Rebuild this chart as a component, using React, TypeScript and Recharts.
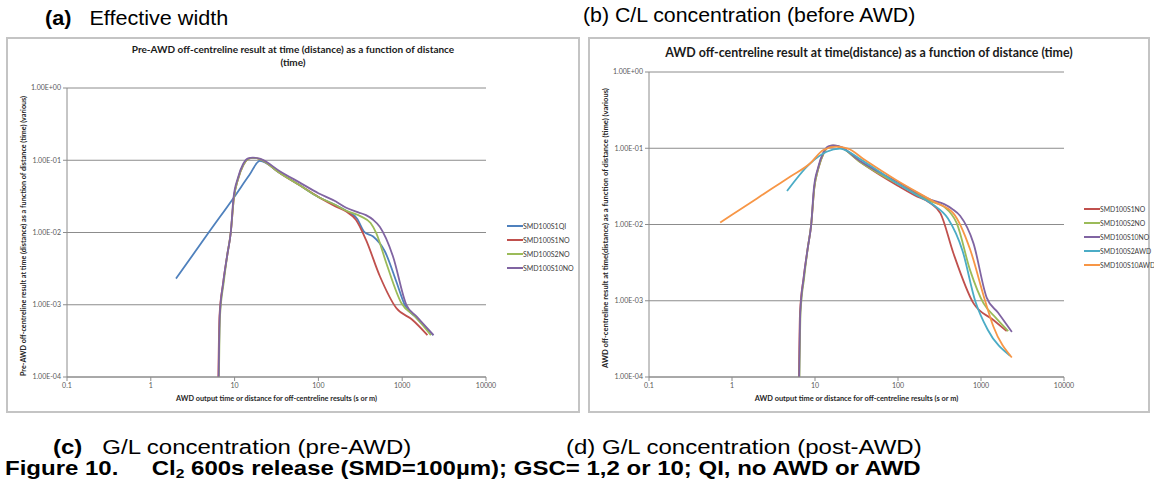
import React from "react";
import { LineChart, Line, XAxis, YAxis, CartesianGrid } from "recharts";

// log axes
const xTicks = [0.1, 1, 10, 100, 1000, 10000];
const yTicks = [0.0001, 0.001, 0.01, 0.1, 1];

// the steep initial rise, shared shape for the NO runs
const riseS1 = [[6.4, 0.0001], [6.6, 0.0007], [7.3, 0.002], [8.2, 0.005], [9.0, 0.01], [9.8, 0.03], [11, 0.055], [12.7, 0.086], [14.5, 0.104], [16.5, 0.108], [20, 0.104]];
const riseS2 = [[6.5, 0.0001], [6.7, 0.0007], [7.4, 0.002], [8.2, 0.005], [9.0, 0.01], [9.8, 0.03], [11, 0.055], [12.7, 0.086], [14.5, 0.104], [16.5, 0.108], [20, 0.104]];
const riseS10 = [[6.45, 0.0001], [6.65, 0.0007], [7.3, 0.002], [8.2, 0.005], [9.0, 0.01], [9.7, 0.03], [10.9, 0.056], [12.6, 0.088], [14.5, 0.106], [16.5, 0.109], [20, 0.105]];

// (a) pre-AWD
const preS1QI = [[2, 0.0023], [5, 0.0103], [10, 0.0316], [15, 0.0624], [20, 0.098], [35, 0.066], [60, 0.045], [100, 0.031], [160, 0.024], [215, 0.02], [290, 0.0155], [355, 0.0101], [450, 0.0088], [620, 0.0055], [850, 0.0021], [1070, 0.001], [1500, 0.00065], [2350, 0.00038]];
const preS1NO = [...riseS1, [35, 0.066], [60, 0.045], [100, 0.031], [160, 0.023], [215, 0.0195], [280, 0.015], [370, 0.0079], [540, 0.0025], [850, 0.0009], [1320, 0.00062], [2000, 0.00038]];
const preS2NO = [...riseS2, [35, 0.066], [60, 0.045], [100, 0.031], [160, 0.024], [215, 0.02], [325, 0.0166], [420, 0.0135], [490, 0.0098], [650, 0.0037], [980, 0.00105], [1400, 0.0007], [2200, 0.00038]];
const preS10NO = [...riseS10, [35, 0.07], [60, 0.049], [100, 0.035], [160, 0.027], [215, 0.022], [300, 0.019], [370, 0.0174], [450, 0.015], [540, 0.012], [775, 0.0047], [1120, 0.001], [1500, 0.00068], [2370, 0.00038]];

// (b) AWD
const awdS1NO = [...riseS1, [35, 0.066], [60, 0.045], [96, 0.033], [160, 0.024], [247, 0.019], [325, 0.014], [465, 0.0042], [810, 0.00093], [1410, 0.00056], [2040, 0.0004]];
const awdS2NO = [...riseS2, [35, 0.066], [60, 0.046], [100, 0.034], [160, 0.026], [250, 0.02], [360, 0.017], [510, 0.0104], [740, 0.0025], [1070, 0.00093], [1500, 0.0006], [2130, 0.0004]];
const awdS10NO = [...riseS10, [35, 0.068], [60, 0.048], [100, 0.036], [160, 0.027], [250, 0.021], [360, 0.0185], [450, 0.016], [560, 0.013], [810, 0.0057], [1170, 0.0011], [1600, 0.0007], [2350, 0.00039]];
const awdS2AWD = [[4.6, 0.0275], [8.7, 0.063], [13.8, 0.09], [20, 0.099], [35, 0.072], [60, 0.049], [96, 0.035], [160, 0.025], [268, 0.018], [400, 0.012], [600, 0.0045], [850, 0.001], [1200, 0.00042], [2240, 0.00019]];
const awdS10AWD = [[0.72, 0.0106], [1, 0.0134], [2, 0.022], [3, 0.0294], [5, 0.0423], [8.7, 0.063], [12.6, 0.095], [18, 0.105], [25, 0.099], [40, 0.07], [96, 0.038], [268, 0.02], [465, 0.014], [740, 0.0047], [1120, 0.001], [1410, 0.00046], [2350, 0.00018]];

const BLUE = "#4F81BD";
const RED = "#C0504D";
const GREEN = "#9BBB59";
const PURPLE = "#8064A2";
const TEAL = "#4BACC6";
const ORANGE = "#F79646";

const preSeries = [
  { name: "SMD100S1QI", color: BLUE, pts: preS1QI },
  { name: "SMD100S1NO", color: RED, pts: preS1NO },
  { name: "SMD100S2NO", color: GREEN, pts: preS2NO },
  { name: "SMD100S10NO", color: PURPLE, pts: preS10NO },
];

const awdSeries = [
  { name: "SMD100S1NO", color: RED, pts: awdS1NO },
  { name: "SMD100S2NO", color: GREEN, pts: awdS2NO },
  { name: "SMD100S10NO", color: PURPLE, pts: awdS10NO },
  { name: "SMD100S2AWD", color: TEAL, pts: awdS2AWD },
  { name: "SMD100S10AWD", color: ORANGE, pts: awdS10AWD },
];

const fmtY = (v: number) => {
  const e = Math.round(Math.log10(v));
  return `1.00E${e < 0 ? "-" : "+"}${String(Math.abs(e)).padStart(2, "0")}`;
};

const chartFont = "Lato, 'Liberation Sans', sans-serif";
const tickStyle = { fontSize: 7, fill: "#595959", fontFamily: chartFont };
const gridColor = "#8c8c8c";

function LogPanel({ left, top, width, height, plotTop, plotRight, series, title, titleSize, titleTop, yLabel, yLabelSize, axisLabelSize, legendLeft, legendTop, legendSize }: any) {
  const plotLeft = 61;
  const plotBottom = 36;
  return (
    <div style={{ position: "absolute", left, top, width, height }}>
      <div
        style={{
          position: "absolute",
          left: 0,
          top: 0,
          width,
          height,
          boxSizing: "border-box",
          border: "2px solid #c4c4c4",
        }}
      />
      <div
        style={{
          position: "absolute",
          left: 0,
          top: titleTop,
          width,
          textAlign: "center",
          fontFamily: chartFont,
          fontWeight: 700,
          fontSize: titleSize,
          lineHeight: "13px",
          color: "#1a1a1a",
        }}
      >
        {title.map((t: string) => (
          <div key={t}>{t}</div>
        ))}
      </div>
      <div style={{ position: "absolute", left: 0, top: 0 }}>
        <LineChart
          width={width}
          height={height}
          margin={{ top: plotTop, right: plotRight, bottom: plotBottom - 20, left: plotLeft - 50 }}
        >
          <CartesianGrid vertical={false} stroke={gridColor} strokeWidth={1} />
          <XAxis
            dataKey="x"
            type="number"
            scale="log"
            domain={[0.1, 10000]}
            ticks={xTicks}
            allowDataOverflow
            height={20}
            tickSize={4}
            tick={tickStyle}
            stroke={gridColor}
          />
          <YAxis
            dataKey="y"
            type="number"
            scale="log"
            domain={[0.0001, 1]}
            ticks={yTicks}
            allowDataOverflow
            width={50}
            tickSize={4}
            tick={tickStyle}
            tickFormatter={fmtY}
            stroke={gridColor}
          />
          {series.map((s: any) => (
            <Line
              key={s.name}
              data={s.pts.map(([x, y]: number[]) => ({ x, y }))}
              dataKey="y"
              name={s.name}
              type="monotone"
              stroke={s.color}
              strokeWidth={1.8}
              dot={false}
              isAnimationActive={false}
            />
          ))}
        </LineChart>
      </div>
      <div
        style={{
          position: "absolute",
          left: 17,
          top: plotTop + (height - plotTop - plotBottom) / 2 + 3,
          transform: "translate(-50%, -50%) rotate(-90deg)",
          whiteSpace: "nowrap",
          fontFamily: chartFont,
          fontWeight: 700,
          fontSize: yLabelSize,
          color: "#262626",
        }}
      >
        {yLabel}
      </div>
      <div
        style={{
          position: "absolute",
          left: plotLeft,
          width: width - plotLeft - plotRight,
          top: height - 19,
          textAlign: "center",
          whiteSpace: "nowrap",
          fontFamily: chartFont,
          fontWeight: 700,
          fontSize: axisLabelSize,
          color: "#262626",
        }}
      >
        AWD output time or distance for off-centreline results (s or m)
      </div>
      <div style={{ position: "absolute", left: legendLeft, top: legendTop }}>
        {series.map((s: any) => (
          <div key={s.name} style={{ display: "flex", alignItems: "center", height: 14 }}>
            <div style={{ width: 16, height: 2, background: s.color }} />
            <span style={{ fontFamily: chartFont, fontSize: legendSize, color: "#404040", whiteSpace: "nowrap" }}>{s.name}</span>
          </div>
        ))}
      </div>
    </div>
  );
}

const capFont = "'Liberation Sans', Arial, sans-serif";
const capStyle: React.CSSProperties = {
  position: "absolute",
  color: "#000",
  whiteSpace: "pre",
  transformOrigin: "left center",
};

export default function App() {
  return (
    <div
      style={{
        position: "absolute",
        left: 0,
        top: 0,
        width: 1154,
        height: 490,
        background: "#fff",
        overflow: "hidden",
        fontFamily: capFont,
      }}
    >
      <div style={{ ...capStyle, left: 45, top: 6, fontSize: 20, lineHeight: "24px", transform: "scaleX(1.08)" }}>
        <b>(a)</b>{"   Effective width"}
      </div>
      <div style={{ ...capStyle, left: 583, top: 3, fontSize: 20, lineHeight: "24px", transform: "scaleX(1.065)" }}>
        (b) C/L concentration (before AWD)
      </div>
      <LogPanel
        left={6}
        top={37}
        width={574}
        height={376}
        plotTop={51}
        plotRight={94}
        series={preSeries}
        title={["Pre-AWD off-centreline result at time (distance) as a function of distance", "(time)"]}
        titleSize={10}
        titleTop={6}
        yLabel="Pre-AWD off-centreline result at time (distance) as a function of distance (time) (various)"
        yLabelSize={7.2}
        axisLabelSize={7.3}
        legendLeft={501}
        legendTop={182}
        legendSize={7}
      />
      <LogPanel
        left={588}
        top={37}
        width={562}
        height={376}
        plotTop={35}
        plotRight={86}
        series={awdSeries}
        title={["AWD off-centreline result at time(distance) as a function of distance (time)"]}
        titleSize={12.4}
        titleTop={9}
        yLabel="AWD off-centreline result at time(distance) as a function of distance (time) (various)"
        yLabelSize={7.6}
        axisLabelSize={7.4}
        legendLeft={496}
        legendTop={165}
        legendSize={6.8}
      />
      <div style={{ ...capStyle, left: 53, top: 438, fontSize: 20, lineHeight: "18px", transform: "scaleX(1.2)" }}>
        <b>(c)</b>{"   G/L concentration (pre-AWD)"}
      </div>
      <div style={{ ...capStyle, left: 566, top: 438, fontSize: 20, lineHeight: "18px", transform: "scaleX(1.2)" }}>
        (d) G/L concentration (post-AWD)
      </div>
      <div
        style={{
          ...capStyle,
          left: 5,
          top: 459,
          fontSize: 20,
          lineHeight: "18px",
          fontWeight: 700,
          transform: "scaleX(1.2)",
        }}
      >
        {"Figure 10.     Cl"}
        <span style={{ fontSize: 13, verticalAlign: -3 }}>2</span>
        {" 600s release (SMD=100µm); GSC= 1,2 or 10; QI, no AWD or AWD"}
      </div>
    </div>
  );
}
